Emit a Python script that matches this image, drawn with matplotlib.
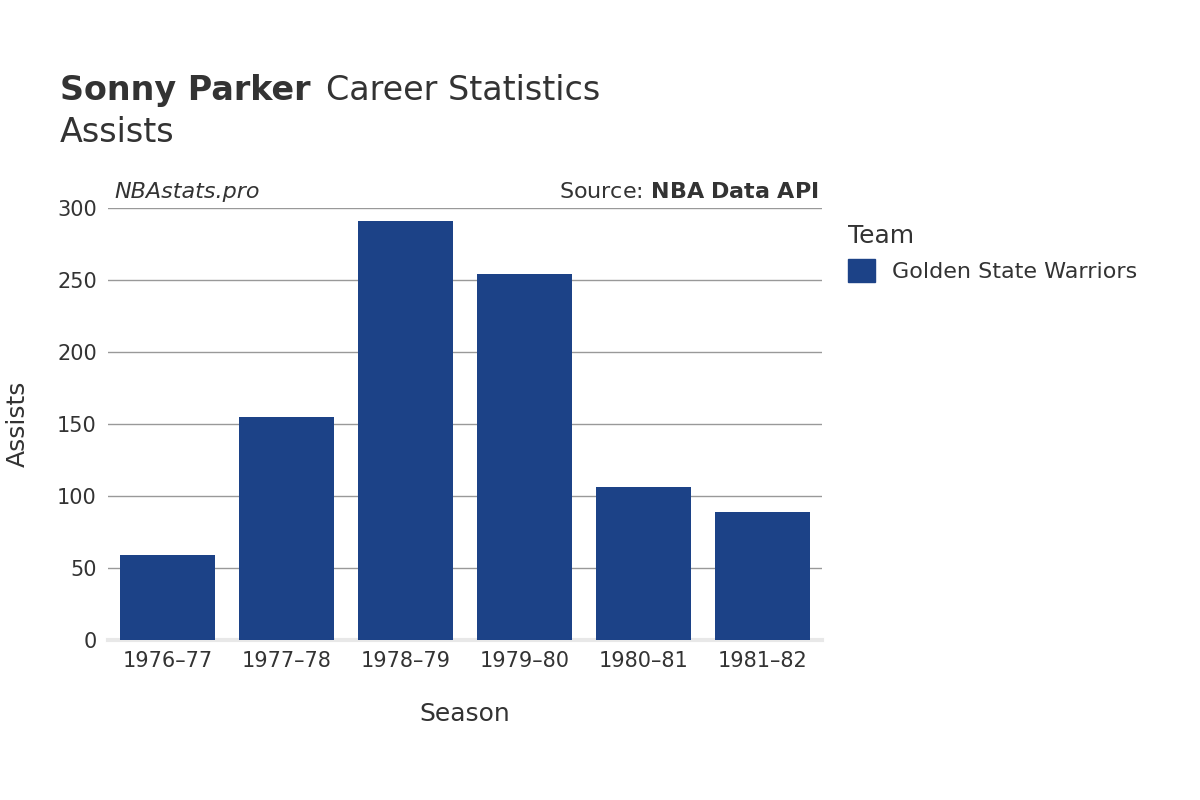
import matplotlib
matplotlib.use("Agg")
import matplotlib.pyplot as plt
from matplotlib.patches import Patch

seasons = ["1976–77", "1977–78", "1978–79", "1979–80", "1980–81", "1981–82"]
assists = [59, 155, 291, 254, 106, 89]
yticks = [0, 50, 100, 150, 200, 250, 300]
team = "Golden State Warriors"
color = "#1c4287"

fig = plt.figure(figsize=(12, 8), dpi=100)
ax = fig.add_axes([0.09, 0.2, 0.595, 0.54])
x = range(len(seasons))
ax.bar(x, assists, width=0.8, color=color, zorder=3)
ax.set_xlim(-0.5, len(seasons) - 0.5)
ax.set_ylim(0, 300)
ax.set_yticks(yticks)
ax.set_xticks(list(x))
ax.set_xticklabels(seasons)
ax.grid(axis="y", color="#999999", linewidth=1, zorder=0)
for s in ["top", "right", "left"]:
    ax.spines[s].set_visible(False)
ax.spines["bottom"].set_color("#e8e8e8")
ax.spines["bottom"].set_linewidth(3)
ax.tick_params(length=0, labelsize=15, colors="#333333", pad=8)
ax.set_xlabel("Season", fontsize=18, color="#333333", labelpad=22)
ax.set_ylabel("Assists", fontsize=18, color="#333333", labelpad=20)

fig.text(0.05, 0.875, "Sonny Parker", fontsize=24, fontweight="bold", color="#333333")
fig.text(0.272, 0.875, "Career Statistics", fontsize=24, color="#333333")
fig.text(0.05, 0.822, "Assists", fontsize=24, color="#333333")
fig.text(0.095, 0.752, "NBAstats.pro", fontsize=16, style="italic", color="#333333")
fig.text(0.682, 0.752, "Source: $\\bf{NBA\\ Data\\ API}$", fontsize=16, color="#333333", ha="right")

leg = fig.legend(handles=[Patch(color=color, label=team)], loc="upper left",
                 bbox_to_anchor=(0.69, 0.745), frameon=False, title="Team",
                 fontsize=16, title_fontsize=18, handlelength=1.2, handleheight=1.2)
leg._legend_box.align = "left"
for t in leg.get_texts():
    t.set_color("#333333")
leg.get_title().set_color("#333333")

fig.savefig("out.png")
